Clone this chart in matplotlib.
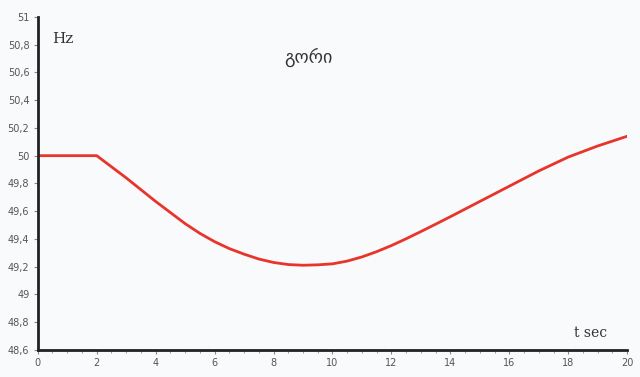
import matplotlib
matplotlib.use("Agg")
import matplotlib.pyplot as plt
from matplotlib.ticker import FuncFormatter, MultipleLocator

# frequency after the disturbance, every half second
t_sec = [0, 1, 2, 2.5, 3, 3.5, 4, 4.5, 5, 5.5, 6, 6.5, 7, 7.5, 8, 8.5, 9, 9.5, 10,
         10.5, 11, 11.5, 12, 12.5, 13, 13.5, 14, 14.5, 15, 15.5, 16, 16.5, 17,
         17.5, 18, 18.5, 19, 19.5, 20]
freq_hz = [50.0, 50.0, 50.0, 49.92, 49.84, 49.755, 49.67, 49.59, 49.51, 49.44,
           49.38, 49.33, 49.29, 49.255, 49.23, 49.215, 49.21, 49.213, 49.22,
           49.24, 49.27, 49.308, 49.352, 49.401, 49.453, 49.506, 49.56, 49.615,
           49.67, 49.725, 49.78, 49.835, 49.89, 49.94, 49.99, 50.03, 50.07,
           50.105, 50.14]
title_text = "გორი"
y_label = "Hz"
x_label = "t sec"


def comma(v, pos):
    s = "%.1f" % v
    if s.endswith(".0"):
        s = s[:-2]
    return s.replace(".", ",")


bg = "#f8fafb"
fig = plt.figure(figsize=(6.4, 3.77), dpi=100, facecolor=bg)
ax = fig.add_axes([0.059, 0.072, 0.921, 0.883], facecolor=bg)

ax.plot(t_sec, freq_hz, color="#e8342a", lw=2, solid_joinstyle="round")

ax.set_xlim(0, 20)
ax.set_ylim(48.6, 51)
ax.xaxis.set_major_locator(MultipleLocator(2))
ax.xaxis.set_minor_locator(MultipleLocator(0.5))
ax.yaxis.set_major_locator(MultipleLocator(0.2))
ax.yaxis.set_major_formatter(FuncFormatter(comma))

for s in ["top", "right"]:
    ax.spines[s].set_visible(False)
for s in ["left", "bottom"]:
    ax.spines[s].set_linewidth(2)
    ax.spines[s].set_color("#222222")

ax.tick_params(axis="both", which="major", labelsize=7, labelcolor="#555555",
               color="#888888", length=3, width=0.8, pad=3)
ax.tick_params(axis="x", which="minor", color="#888888", length=2, width=0.6)

ax.text(0.025, 0.955, y_label, transform=ax.transAxes, family="DejaVu Serif",
        fontsize=11, color="#333333", va="top")
ax.text(0.937, 0.05, x_label, transform=ax.transAxes, family="DejaVu Serif",
        fontsize=10, color="#333333", va="center", ha="center")
ax.text(0.459, 0.88, title_text, transform=ax.transAxes, family="DejaVu Sans",
        fontsize=13, color="#333333", va="center", ha="center")

fig.savefig("out.png", dpi=100, facecolor=bg)
